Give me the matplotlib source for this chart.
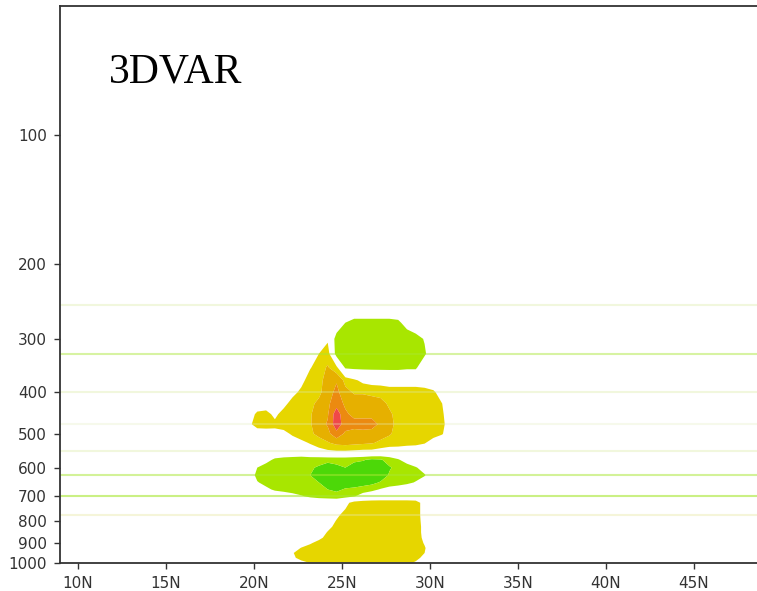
import numpy as np
import matplotlib
matplotlib.use('Agg')
import matplotlib.pyplot as plt
from matplotlib.ticker import NullLocator

# grid of the cross-section
lats = [19.7, 20.2, 20.7, 21.2, 21.7, 22.2, 22.7, 23.2, 23.7, 24.2, 24.7, 25.2,
        25.7, 26.2, 26.7, 27.2, 27.7, 28.2, 28.7, 29.2, 29.7, 30.2, 30.7, 31.2]
levels = [250, 275, 300, 325, 350, 375, 400, 425, 450, 475, 500, 525, 550,
          575, 600, 625, 650, 675, 700, 725, 750, 775, 800, 825, 850, 875,
          900, 925, 950, 975, 1000]

anomaly = [
    [0, 0, 0, 0, 0, 0, 0, 0, 0, 0, 0, 0, 0, 0, 0, 0, 0, 0, 0, 0, 0, 0, 0, 0],
    [0, 0, 0, 0, 0, 0, 0, 0, 0, 0, 0, -1.0, -1.3, -1.3, -1.3, -1.3, -1.3, -1.2, -0.6, 0, 0, 0, 0, 0],
    [0, 0, 0, 0, 0, 0, 0, 0, 0, 0.8, -1.6, -1.6, -1.6, -1.6, -1.6, -1.6, -1.6, -1.6, -1.6, -1.5, -0.9, 0, 0, 0],
    [0, 0, 0, 0, 0, 0, 0, 0, 1.0, 1.6, -1.6, -1.7, -1.7, -1.7, -1.7, -1.7, -1.7, -1.7, -1.6, -1.6, -1.2, 0, 0, 0],
    [0, 0, 0, 0, 0, 0, 0, 0.9, 1.6, 2.1, 1.3, -1.2, -1.3, -1.3, -1.3, -1.3, -1.3, -1.3, -1.2, -1.2, 0, 0, 0, 0],
    [0, 0, 0, 0, 0, 0, 0.6, 1.6, 1.7, 2.4, 2.9, 1.7, 1.2, 0.7, 0.5, 0.4, 0.3, 0.3, 0.3, 0.3, 0.2, 0.1, 0, 0],
    [0, 0, 0, 0, 0, 0.6, 1.3, 1.6, 1.8, 2.5, 3.3, 2.3, 1.9, 1.9, 1.8, 1.8, 1.6, 1.6, 1.6, 1.6, 1.5, 1.2, 0.4, 0],
    [0, 0.1, 0.3, 0.2, 0.6, 1.5, 1.6, 1.8, 2.2, 2.8, 3.6, 2.8, 2.5, 2.5, 2.4, 2.2, 1.9, 1.7, 1.6, 1.6, 1.6, 1.5, 1.0, 0],
    [0.2, 1.3, 1.4, 0.7, 1.5, 1.6, 1.7, 1.9, 2.5, 2.9, 4.6, 3.2, 2.7, 2.7, 2.7, 2.5, 2.1, 1.8, 1.6, 1.6, 1.6, 1.6, 1.2, 0],
    [0.7, 1.5, 1.5, 1.3, 1.6, 1.6, 1.8, 1.9, 2.6, 3.1, 4.6, 3.5, 3.4, 3.4, 3.4, 2.8, 2.2, 1.8, 1.7, 1.6, 1.6, 1.6, 1.4, 0],
    [0, 0.3, 0.4, 0.6, 0.6, 1.2, 1.6, 1.8, 2.3, 2.7, 3.7, 2.8, 2.6, 2.7, 2.6, 2.4, 2.1, 1.7, 1.7, 1.6, 1.6, 1.5, 1.1, 0],
    [0, 0, 0, 0, 0, 0.3, 0.7, 1.1, 1.5, 1.9, 2.3, 2.4, 2.3, 2.2, 2.1, 1.8, 1.6, 1.6, 1.5, 1.4, 1.1, 0.4, 0, 0],
    [0, 0, 0, 0, 0, 0, 0, 0.3, 0.6, 0.8, 0.9, 0.9, 0.8, 0.7, 0.7, 0.5, 0.3, 0.2, 0, 0, 0, 0, 0, 0],
    [0, 0, -0.6, -1.2, -1.4, -1.5, -1.6, -1.6, -1.7, -1.7, -1.7, -1.7, -1.8, -1.9, -2.2, -2.1, -1.6, -1.1, -0.5, 0, 0, 0, 0, 0],
    [0, -1.0, -1.5, -1.6, -1.6, -1.7, -1.8, -1.9, -2.1, -2.5, -2.2, -2.0, -2.4, -2.6, -2.6, -2.5, -2.1, -1.7, -1.5, -1.1, -0.5, 0, 0, 0],
    [0, -1.4, -1.6, -1.7, -1.7, -1.8, -1.9, -2.0, -2.5, -2.6, -2.6, -2.5, -2.6, -2.7, -2.7, -2.6, -1.9, -1.7, -1.6, -1.5, -1.1, 0, 0, 0],
    [0, -0.9, -1.4, -1.6, -1.6, -1.7, -1.8, -1.9, -2.0, -2.4, -2.5, -2.5, -2.5, -2.4, -2.3, -1.9, -1.7, -1.6, -1.3, -0.9, -0.3, 0, 0, 0],
    [0, 0, -0.7, -1.2, -1.5, -1.6, -1.6, -1.7, -1.8, -2.0, -2.2, -1.9, -1.8, -1.6, -1.3, -0.9, -0.5, -0.2, 0, 0, 0, 0, 0, 0],
    [0, 0, 0, 0, 0, -0.5, -0.9, -1.2, -1.4, -1.5, -1.6, -1.4, -1.1, -0.4, -0.1, 0, 0, 0, 0, 0, 0, 0, 0, 0],
    [0, 0, 0, 0, 0, 0, 0, 0, 0, 0, 0, 0.6, 1.5, 1.6, 1.6, 1.6, 1.6, 1.6, 1.6, 1.5, 0.5, 0, 0, 0],
    [0, 0, 0, 0, 0, 0, 0, 0, 0, 0, 0.3, 1.0, 1.6, 1.6, 1.6, 1.6, 1.6, 1.6, 1.6, 1.6, 0.4, 0, 0, 0],
    [0, 0, 0, 0, 0, 0, 0, 0, 0, 0, 0.7, 1.5, 1.6, 1.6, 1.6, 1.6, 1.6, 1.6, 1.6, 1.6, 0.4, 0, 0, 0],
    [0, 0, 0, 0, 0, 0, 0, 0, 0, 0.2, 1.1, 1.6, 1.6, 1.6, 1.6, 1.6, 1.6, 1.6, 1.6, 1.6, 0.5, 0, 0, 0],
    [0, 0, 0, 0, 0, 0, 0, 0, 0, 0.6, 1.4, 1.6, 1.6, 1.6, 1.6, 1.6, 1.6, 1.6, 1.6, 1.6, 0.6, 0, 0, 0],
    [0, 0, 0, 0, 0, 0, 0, 0, 0.2, 1.1, 1.6, 1.6, 1.6, 1.6, 1.6, 1.6, 1.6, 1.6, 1.6, 1.6, 0.6, 0, 0, 0],
    [0, 0, 0, 0, 0, 0, 0, 0, 0.6, 1.5, 1.6, 1.6, 1.6, 1.6, 1.6, 1.6, 1.6, 1.6, 1.6, 1.6, 0.7, 0, 0, 0],
    [0, 0, 0, 0, 0, 0, 0, 0.8, 1.5, 1.6, 1.6, 1.6, 1.6, 1.6, 1.6, 1.6, 1.6, 1.6, 1.6, 1.6, 0.9, 0, 0, 0],
    [0, 0, 0, 0, 0, 0.1, 1.1, 1.6, 1.6, 1.6, 1.6, 1.6, 1.6, 1.6, 1.6, 1.6, 1.6, 1.6, 1.6, 1.6, 1.1, 0.2, 0, 0],
    [0, 0, 0, 0, 0, 0.9, 1.6, 1.6, 1.6, 1.6, 1.6, 1.6, 1.6, 1.6, 1.6, 1.6, 1.6, 1.6, 1.6, 1.6, 1.0, 0, 0, 0],
    [0, 0, 0, 0, 0, 0.7, 1.5, 1.6, 1.6, 1.6, 1.6, 1.6, 1.6, 1.6, 1.6, 1.6, 1.6, 1.6, 1.6, 1.5, 0.5, 0, 0, 0],
    [0, 0, 0, 0, 0, 0, 0.6, 1.1, 1.5, 1.6, 1.6, 1.6, 1.6, 1.6, 1.6, 1.6, 1.6, 1.6, 1.4, 0.8, 0, 0, 0, 0],
]

clevs = [-10, -2, -1, 1, 2, 3, 4, 10]
fill_colors = ['#4cd808', '#a8e600', (1, 1, 1, 0), '#e6d600', '#e6b000',
               '#ec8a10', '#f04848']

# faint horizontal lines across the panel
line_levels = [250, 325, 400, 475, 550, 625, 700, 775]
line_colors = ['#d8eaa0', '#a8e632', '#d8eaa0', '#e4eec0', '#d8eaa0',
               '#a8e632', '#a8e632', '#e6e6a0']
line_alphas = [0.35, 0.45, 0.35, 0.3, 0.35, 0.5, 0.6, 0.4]

yticks = [100, 200, 300, 400, 500, 600, 700, 800, 900, 1000]
xticks = [10, 15, 20, 25, 30, 35, 40, 45]
xlabels = ['10N', '15N', '20N', '25N', '30N', '35N', '40N', '45N']

fig = plt.figure(figsize=(7.57, 5.91), dpi=100)
ax = fig.add_axes([0.0793, 0.0482, 0.9306, 0.9416])

ax.contourf(lats, levels, np.array(anomaly), levels=clevs, colors=fill_colors,
            antialiased=True)

for p, c, a in zip(line_levels, line_colors, line_alphas):
    ax.axhline(p, color=c, alpha=a, lw=1.5)

ax.set_yscale('log')
ax.set_ylim(1000, 50)
ax.set_xlim(9, 49)
ax.set_yticks(yticks)
ax.set_yticklabels([str(v) for v in yticks])
ax.yaxis.set_minor_locator(NullLocator())
ax.set_xticks(xticks)
ax.set_xticklabels(xlabels)

ax.tick_params(direction='out', length=4.5, width=1, color='#333333',
               labelcolor='#333333', labelsize=11, pad=5)
for s in ax.spines.values():
    s.set_color('#333333')
    s.set_linewidth(1.3)

ax.text(0.0696, 0.8634, '3DVAR', transform=ax.transAxes, fontsize=30,
        family='Liberation Serif', va='baseline', ha='left', color='black')

fig.savefig('out.png', dpi=100)
